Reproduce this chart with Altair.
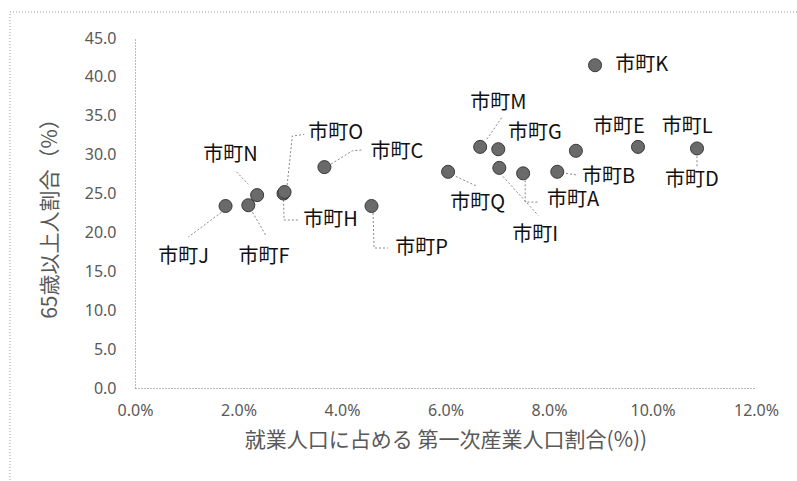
import altair as alt
import pandas as pd

# ---- data ----
towns = ["市町A", "市町B", "市町C", "市町D", "市町E", "市町F", "市町G", "市町H", "市町I",
         "市町J", "市町K", "市町L", "市町M", "市町N", "市町O", "市町P", "市町Q"]
primary_pct = [7.50, 8.16, 3.66, 10.86, 8.52, 2.19, 7.02, 2.87, 7.04,
               1.75, 8.89, 9.72, 6.67, 2.36, 2.89, 4.57, 6.05]
elderly_pct = [27.6, 27.8, 28.4, 30.8, 30.5, 23.5, 30.7, 25.0, 28.3,
               23.4, 41.5, 31.0, 31.0, 24.8, 25.2, 23.4, 27.8]

# data-label anchors (left edge, vertical middle), in data units
label_x = [7.96, 8.64, 4.55, 10.24, 8.85, 2.00, 7.21, 3.25, 7.29,
           0.45, 9.28, 10.18, 6.48, 1.32, 3.35, 5.03, 6.09]
label_y = [24.2, 27.1, 30.3, 26.7, 33.5, 16.8, 32.8, 21.6, 19.7,
           16.8, 41.5, 33.5, 36.6, 29.9, 32.8, 18.0, 23.8]

# leader lines (waypoints in data units)
leaders = {
    "市町A": [(7.54, 26.7), (7.54, 23.9), (7.79, 23.9)],
    "市町B": [(8.33, 27.6), (8.52, 27.4)],
    "市町C": [(3.79, 28.8), (4.20, 30.5), (4.39, 30.6)],
    "市町D": [(10.86, 29.8), (10.86, 28.5)],
    "市町H": [(2.87, 24.2), (2.88, 21.6), (3.16, 21.6)],
    "市町I": [(7.11, 27.2), (7.79, 22.2)],
    "市町J": [(1.67, 22.6), (1.03, 19.4)],
    "市町F": [(2.27, 22.6), (2.54, 19.5)],
    "市町M": [(6.80, 32.0), (7.09, 34.8)],
    "市町N": [(1.96, 27.8), (2.19, 26.2)],
    "市町O": [(2.94, 26.1), (3.04, 32.4), (3.27, 32.6)],
    "市町P": [(4.60, 22.5), (4.62, 18.0), (4.89, 18.0)],
    "市町Q": [(6.20, 27.2), (6.59, 26.0)],
}

x_ticks = [0, 0.02, 0.04, 0.06, 0.08, 0.10, 0.12]
y_ticks = [0, 5, 10, 15, 20, 25, 30, 35, 40, 45]

pts = pd.DataFrame({"town": towns,
                    "x": [v / 100 for v in primary_pct],
                    "y": elderly_pct})
lbl = pd.DataFrame({"town": towns,
                    "x": [v / 100 for v in label_x],
                    "y": label_y})
rows = []
for t, path in leaders.items():
    for i, (a, b) in enumerate(path):
        rows.append({"town": t, "seq": i, "x": a / 100, "y": b})
lead = pd.DataFrame(rows)

GRAY = "#595959"
FONT = "Noto Sans CJK JP"

xscale = alt.Scale(domain=[0, 0.12], nice=False, zero=True)
yscale = alt.Scale(domain=[0, 45], nice=False)

xaxis = alt.Axis(values=x_ticks, format=".1%", title="就業人口に占める 第一次産業人口割合(%))",
                 grid=False, ticks=False, domainColor="#777", domainDash=[1, 2], domainWidth=1,
                 labelFont="Noto Sans", labelFontSize=16, labelColor=GRAY, labelPadding=14,
                 titleFont=FONT, titleFontSize=21, titleFontWeight="normal", titleColor=GRAY,
                 titlePadding=11, labelFlush=False)
yaxis = alt.Axis(values=y_ticks, format=".1f", title="65歳以上人割合（%）",
                 grid=False, ticks=False, domainColor="#777", domainDash=[1, 2], domainWidth=1,
                 labelFont="Noto Sans", labelFontSize=16, labelColor=GRAY, labelPadding=19,
                 titleFont=FONT, titleFontSize=21, titleFontWeight="normal", titleColor=GRAY,
                 titlePadding=24, labelFlush=False)

frame = alt.Chart(pd.DataFrame({"a": [0]})).mark_rect(
    fill=None, stroke="#999", strokeDash=[1, 2], strokeWidth=1
).encode(x=alt.value(-125), x2=alt.value(700), y=alt.value(-26), y2=alt.value(520))

lines = alt.Chart(lead).mark_line(color="#888", strokeDash=[2, 2], strokeWidth=1).encode(
    x=alt.X("x:Q", scale=xscale, axis=xaxis),
    y=alt.Y("y:Q", scale=yscale, axis=yaxis),
    detail="town:N",
    order="seq:Q",
)

points = alt.Chart(pts).mark_point(
    shape="circle", filled=True, size=170, fill="#6a6a6a", stroke="#3a3a3a",
    strokeWidth=1, opacity=1
).encode(
    x=alt.X("x:Q", scale=xscale, axis=xaxis),
    y=alt.Y("y:Q", scale=yscale, axis=yaxis),
)

labels = alt.Chart(lbl).mark_text(
    align="left", baseline="middle", font=FONT, fontSize=20, color="#111111"
).encode(
    x=alt.X("x:Q", scale=xscale, axis=xaxis),
    y=alt.Y("y:Q", scale=yscale, axis=yaxis),
    text="town:N",
)

chart = alt.layer(frame, lines, points, labels).properties(
    width=621, height=350,
    autosize=alt.AutoSizeParams(type="none"),
    padding={"left": 135, "top": 38, "right": 41, "bottom": 93},
    background="white",
).configure_view(stroke=None)

chart.save("out.html", embed_options={"renderer": "svg", "actions": False})
